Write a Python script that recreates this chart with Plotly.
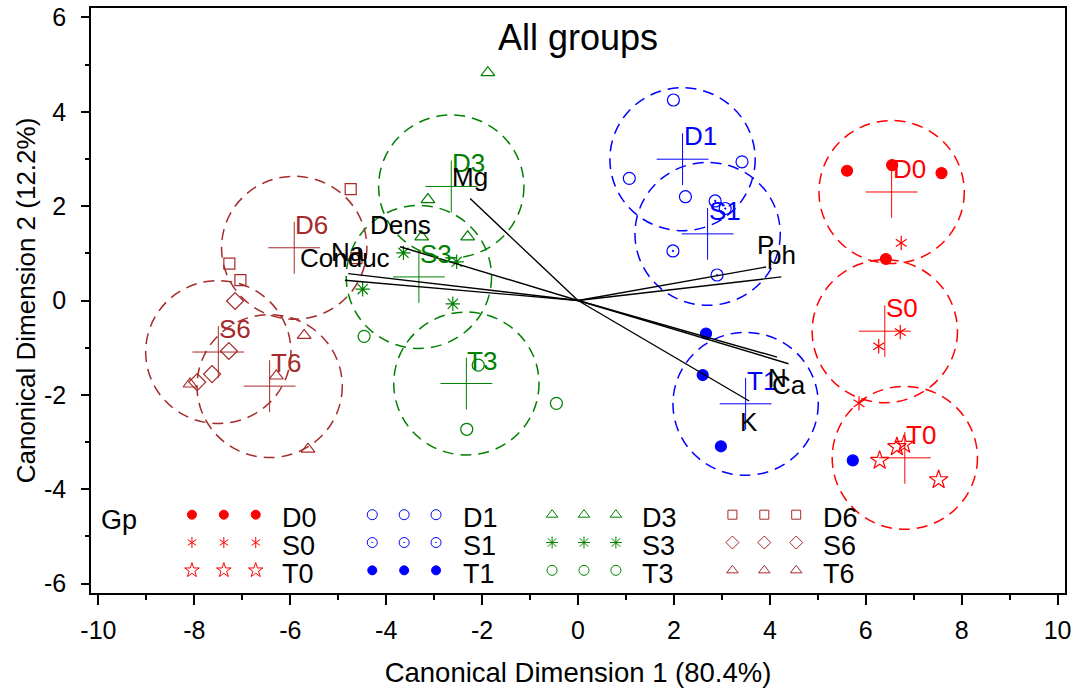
import numpy as np
import plotly.graph_objects as go

# ---------------- data (canonical scores) ----------------
D0_x = [5.61, 6.55, 7.58, 6.42]
D0_y = [2.75, 2.87, 2.70, 0.88]
S0_x = [6.74, 6.72, 6.27, 5.86]
S0_y = [1.22, -0.67, -0.97, -2.18]
T0_x = [6.29, 6.65, 6.80, 7.52]
T0_y = [-3.39, -3.10, -3.05, -3.80]

D1_x = [1.99, 1.07, 3.42, 2.24]
D1_y = [4.25, 2.59, 2.94, 2.20]
S1_x = [1.98, 2.90, 2.86, 3.07]
S1_y = [1.05, 0.54, 2.11, 1.95]
T1_x = [2.67, 2.60, 2.98, 5.73]
T1_y = [-0.70, -1.58, -3.09, -3.39]

D3_x = [-1.88, -3.13, -3.26, -2.30]
D3_y = [4.83, 2.14, 1.35, 1.35]
S3_x = [-3.64, -2.53, -4.49, -2.61]
S3_y = [1.01, 0.82, 0.24, -0.07]
T3_x = [-4.46, -2.08, -0.45, -2.32]
T3_y = [-0.76, -1.37, -2.18, -2.73]

D6_x = [-4.74, -7.27, -7.04, -4.62]
D6_y = [2.36, 0.78, 0.43, 0.90]
S6_x = [-7.15, -7.28, -7.63, -7.94]
S6_y = [-0.01, -1.07, -1.56, -1.73]
T6_x = [-5.71, -6.29, -8.09, -5.63]
T6_y = [-0.74, -1.60, -1.77, -3.15]

group_names = ["D0", "S0", "T0", "D1", "S1", "T1", "D3", "S3", "T3", "D6", "S6", "T6"]
circle_radius = 1.515

var_names = ["Mg", "Dens", "Na", "Conduc", "P", "ph", "N", "Ca", "K"]
var_x = [-2.25, -3.71, -4.79, -4.86, 3.92, 4.24, 4.15, 4.39, 3.57]
var_y = [2.16, 1.14, 0.57, 0.43, 0.71, 0.50, -1.20, -1.34, -2.13]

x_ticks = [-10, -8, -6, -4, -2, 0, 2, 4, 6, 8, 10]
y_ticks = [-6, -4, -2, 0, 2, 4, 6]

# ---------------- styles ----------------
RED, BLUE, GREEN, BROWN = "#FF0000", "#0000FF", "#008000", "#A52A2A"
FONT = "Liberation Sans, Arial, sans-serif"

group_data = {
    "D0": (D0_x, D0_y), "S0": (S0_x, S0_y), "T0": (T0_x, T0_y),
    "D1": (D1_x, D1_y), "S1": (S1_x, S1_y), "T1": (T1_x, T1_y),
    "D3": (D3_x, D3_y), "S3": (S3_x, S3_y), "T3": (T3_x, T3_y),
    "D6": (D6_x, D6_y), "S6": (S6_x, S6_y), "T6": (T6_x, T6_y),
}
group_color = {g: c for gs, c in [(("D0", "S0", "T0"), RED), (("D1", "S1", "T1"), BLUE),
                                  (("D3", "S3", "T3"), GREEN), (("D6", "S6", "T6"), BROWN)]
               for g in gs}
# list of (symbol, size) per group; S0 asterisk built from two Y-shapes
group_symbol = {
    "D0": [("circle", 11)], "S0": [("y-up-open", 9), ("y-down-open", 9)], "T0": [("star-open", 14)],
    "D1": [("circle-open", 12)], "S1": [("circle-open-dot", 12)], "T1": [("circle", 11)],
    "D3": [("triangle-up-open", 12)], "S3": [("asterisk-open", 12)], "T3": [("circle-open", 12)],
    "D6": [("square-open", 11)], "S6": [("diamond-open", 13)], "T6": [("triangle-up-open", 12)],
}

fig = go.Figure()
shapes = []
annotations = []

# circles, points, centroids
for g in group_names:
    xs, ys = group_data[g]
    col = group_color[g]
    cx, cy = float(np.mean(xs)), float(np.mean(ys))
    shapes.append(dict(type="circle", xref="x", yref="y",
                       x0=cx - circle_radius, x1=cx + circle_radius,
                       y0=cy - circle_radius, y1=cy + circle_radius,
                       line=dict(color=col, width=1.5, dash="11px,7px"), layer="below"))
    for sym, sz in group_symbol[g]:
        fig.add_trace(go.Scatter(x=xs, y=ys, mode="markers", showlegend=False, hoverinfo="skip",
                                 marker=dict(symbol=sym, size=sz, color=col, line=dict(width=1.2, color=col))))
    fig.add_trace(go.Scatter(x=[cx], y=[cy], mode="markers", showlegend=False, hoverinfo="skip",
                             marker=dict(symbol="cross-thin-open", size=37, color=col,
                                         line=dict(width=1, color=col))))
    annotations.append(dict(x=cx, y=cy, xref="x", yref="y", text=g, showarrow=False,
                            xanchor="left", yanchor="middle", xshift=-1, yshift=23,
                            font=dict(family=FONT, size=26, color=col)))

# variable vectors
vx, vy = [], []
for x, y in zip(var_x, var_y):
    vx += [0, x, None]
    vy += [0, y, None]
fig.add_trace(go.Scatter(x=vx, y=vy, mode="lines", showlegend=False, hoverinfo="skip",
                         line=dict(color="black", width=1.4)))
for name, x, y in zip(var_names, var_x, var_y):
    annotations.append(dict(x=x, y=y, xref="x", yref="y", text=name, showarrow=False,
                            xanchor="center", yanchor="middle", yshift=22 if y > 0 else -21,
                            font=dict(family=FONT, size=26, color="black")))

# in-plot legend (layout positions in axis units)
leg_col_x = [-8.05, -4.29, -0.54, 3.22]
leg_sym_step = 0.665
leg_label_dx = 1.84
leg_row_y = [-4.54, -5.13, -5.72]
leg_label_dy = -0.07
for ci in range(4):
    for ri in range(3):
        g = group_names[ci * 3 + ri]
        col = group_color[g]
        sx = [leg_col_x[ci] + k * leg_sym_step for k in range(3)]
        sy = [leg_row_y[ri]] * 3
        for sym, sz in group_symbol[g]:
            fig.add_trace(go.Scatter(x=sx, y=sy, mode="markers", showlegend=False, hoverinfo="skip",
                                     marker=dict(symbol=sym, size=round(sz * 0.8), color=col,
                                                 line=dict(width=1, color=col))))
        annotations.append(dict(x=leg_col_x[ci] + leg_label_dx, y=leg_row_y[ri] + leg_label_dy,
                                xref="x", yref="y", text=g, showarrow=False,
                                xanchor="left", yanchor="middle",
                                font=dict(family=FONT, size=27, color="black")))
annotations.append(dict(x=-9.98, y=-4.66, xref="x", yref="y", text="Gp", showarrow=False,
                        xanchor="left", yanchor="middle", font=dict(family=FONT, size=27, color="black")))

# title inside plot
annotations.append(dict(x=0.5, y=0.95, xref="paper", yref="paper", text="All groups", showarrow=False,
                        xanchor="center", yanchor="middle", font=dict(family=FONT, size=36, color="black")))

fig.update_layout(
    width=1076, height=694,
    margin=dict(l=91, r=11, t=8, b=101, autoexpand=False),
    paper_bgcolor="white", plot_bgcolor="white",
    font=dict(family=FONT, color="black"),
    shapes=shapes, annotations=annotations, showlegend=False,
    xaxis=dict(range=[-10.155, 10.155], tickvals=x_ticks, ticktext=[str(v) for v in x_ticks],
               automargin=False,
               showgrid=False, zeroline=False, showline=True, linecolor="black", linewidth=1.5,
               mirror=True, ticks="outside", ticklen=10, tickwidth=1.5, tickcolor="black",
               minor=dict(dtick=1, tick0=0, ticks="outside", ticklen=5, tickwidth=1.5, tickcolor="black"),
               tickfont=dict(family=FONT, size=25), ticklabelstandoff=4,
               title=dict(text="Canonical Dimension 1 (80.4%)", font=dict(family=FONT, size=27.5), standoff=20)),
    yaxis=dict(range=[-6.2, 6.2], tickvals=y_ticks, ticktext=[str(v) for v in y_ticks],
               automargin=False,
               showgrid=False, zeroline=False, showline=True, linecolor="black", linewidth=1.5,
               mirror=True, ticks="outside", ticklen=8, tickwidth=1.5, tickcolor="black",
               minor=dict(dtick=1, tick0=0, ticks="outside", ticklen=4, tickwidth=1.5, tickcolor="black"),
               tickfont=dict(family=FONT, size=25), ticklabelstandoff=10,
               title=dict(text="Canonical Dimension 2 (12.2%)", font=dict(family=FONT, size=26), standoff=1)),
)

fig.write_html("out.html", config={"displayModeBar": False},
               post_script="document.body.style.margin='0';document.body.style.padding='0';")
